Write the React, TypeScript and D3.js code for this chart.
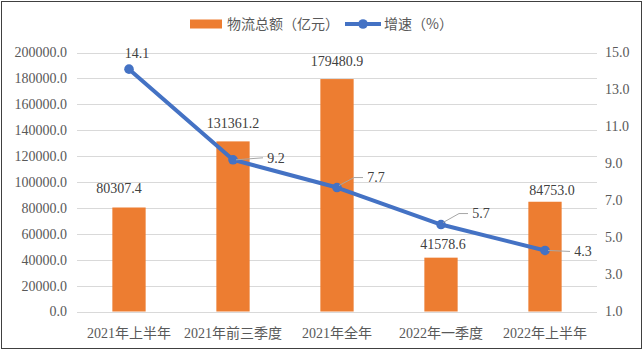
import React from "react";
import * as d3 from "d3";

const categories = ["2021年上半年", "2021年前三季度", "2021年全年", "2022年一季度", "2022年上半年"];
const totals = [80307.4, 131361.2, 179480.9, 41578.6, 84753.0];
const growth = [14.1, 9.2, 7.7, 5.7, 4.3];
const leftTicks = [0, 20000, 40000, 60000, 80000, 100000, 120000, 140000, 160000, 180000, 200000];
const rightTicks = [1, 3, 5, 7, 9, 11, 13, 15];
const legendBar = "物流总额（亿元）";
const legendLine = "增速（%）";

// layout: manual label offsets (as placed in the reference)
const barLabelDx = [-10, 0, 0, 2, 7];
const barLabelDy = [-19, -18.5, -18, -14, -12];
const lineLabelDx = [8, 43, 39, 40, 38];
const lineLabelDy = [-16, -2, -10, -11, 1];

const W = 644;
const H = 352;
const ORANGE = "#ED7D31";
const BLUE = "#4472C4";
const NUM_FONT = "'Liberation Serif', 'Noto Sans CJK SC', serif";
const CJK_FONT = "'Noto Sans CJK SC', sans-serif";

export default function App() {
  const x = d3.scaleBand<string>().domain(categories).range([77, 597]).padding(0);
  const yL = d3.scaleLinear().domain([0, 200000]).range([311.5, 52.5]);
  const yR = d3.scaleLinear().domain([1, 15]).range([311.5, 52.5]);
  const bw = x.bandwidth() * 0.32;
  const cx = (c: string) => (x(c) as number) + x.bandwidth() / 2;

  const line = d3
    .line<number>()
    .x((_, i) => cx(categories[i]))
    .y((d) => yR(d));

  const fmt = (v: number) => v.toFixed(1);

  return (
    <svg
      width={W}
      height={H}
      style={{ position: "absolute", left: 0, top: 0, background: "#fff" }}
    >
      <rect x={1.5} y={1.5} width={640} height={347} fill="#fff" stroke="#404040" strokeWidth={1} />
      {/* gridlines */}
      {leftTicks.map((t) => (
        <line key={"g" + t} x1={77} x2={597} y1={Math.round(yL(t)) + 0.5} y2={Math.round(yL(t)) + 0.5} stroke="#D9D9D9" strokeWidth={1} />
      ))}
      {/* left ticks */}
      {leftTicks.map((t) => (
        <text key={"l" + t} x={67} y={yL(t)} dy="0.35em" textAnchor="end" fontFamily={NUM_FONT} fontSize={14} fill="#595959">
          {fmt(t)}
        </text>
      ))}
      {/* right ticks */}
      {rightTicks.map((t) => (
        <text key={"r" + t} x={605} y={yR(t)} dy="0.35em" textAnchor="start" fontFamily={NUM_FONT} fontSize={14} fill="#595959">
          {fmt(t)}
        </text>
      ))}
      {/* bars */}
      {categories.map((c, i) => (
        <rect key={"b" + c} x={cx(c) - bw / 2} y={yL(totals[i])} width={bw} height={yL(0) - yL(totals[i])} fill={ORANGE} />
      ))}
      {/* bar labels */}
      {categories.map((c, i) => (
        <text key={"bl" + c} x={cx(c) + barLabelDx[i]} y={yL(totals[i]) + barLabelDy[i]} dy="0.35em" textAnchor="middle" fontFamily={NUM_FONT} fontSize={14} fill="#404040">
          {fmt(totals[i])}
        </text>
      ))}
      {/* category labels */}
      {categories.map((c) => (
        <text key={"c" + c} x={cx(c)} y={333.5} dy="0.35em" textAnchor="middle" fontFamily={NUM_FONT} fontSize={14} fill="#595959">
          {c}
        </text>
      ))}
      {/* line */}
      <path d={line(growth) || ""} fill="none" stroke={BLUE} strokeWidth={4} strokeLinejoin="round" strokeLinecap="round" />
      {growth.map((g, i) => (
        <circle key={"p" + i} cx={cx(categories[i])} cy={yR(g)} r={4.8} fill={BLUE} />
      ))}
      {/* leader lines */}
      {growth.map((g, i) => {
        if (i === 0) return null;
        const px = cx(categories[i]);
        const py = yR(g);
        const lx = px + lineLabelDx[i];
        const ly = py + lineLabelDy[i];
        const left = lx - 9;
        const end = left - 4;
        let d: string;
        if (Math.abs(lineLabelDy[i]) > 5) {
          d = `M${px + 2},${py - 2}L${end - 9},${ly}L${end},${ly}`;
        } else {
          d = `M${px + 3},${py}L${end},${ly}`;
        }
        return <path key={"ld" + i} d={d} fill="none" stroke="#A6A6A6" strokeWidth={1} />;
      })}
      {/* line labels */}
      {growth.map((g, i) => (
        <text key={"pl" + i} x={cx(categories[i]) + lineLabelDx[i]} y={yR(g) + lineLabelDy[i]} dy="0.35em" textAnchor="middle" fontFamily={NUM_FONT} fontSize={14} fill="#404040">
          {fmt(g)}
        </text>
      ))}
      {/* legend */}
      <rect x={190} y={19.5} width={32} height={9} fill={ORANGE} />
      <text x={227} y={24.5} dy="0.35em" fontFamily={CJK_FONT} fontSize={14} fill="#595959">
        {legendBar}
      </text>
      <line x1={345} x2={381} y1={24} y2={24} stroke={BLUE} strokeWidth={4} />
      <circle cx={363} cy={24} r={4.8} fill={BLUE} />
      <text x={384} y={24.5} dy="0.35em" fontFamily={CJK_FONT} fontSize={14} fill="#595959">
        {legendLine}
      </text>
    </svg>
  );
}
